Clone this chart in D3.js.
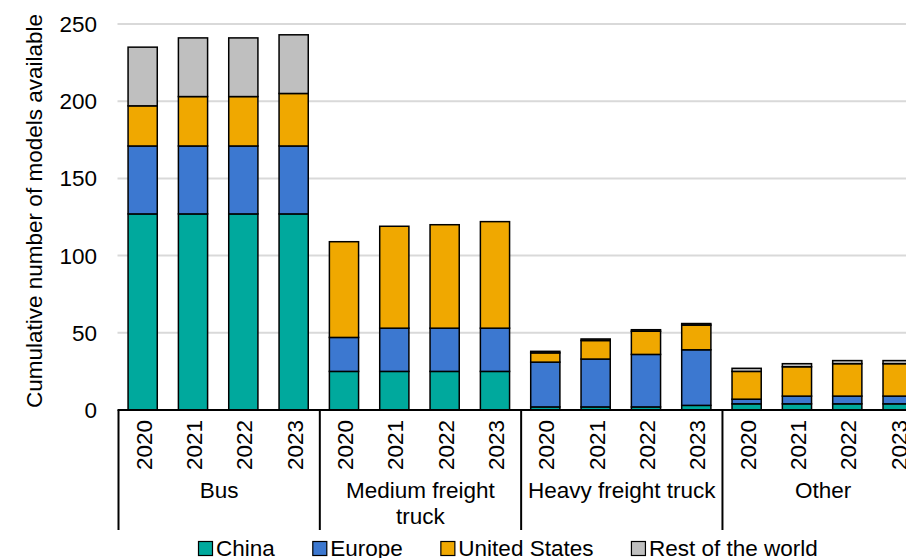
<!DOCTYPE html>
<html>
<head>
<meta charset="utf-8">
<script src="https://cdn.jsdelivr.net/npm/d3@7"></script>
<style>
  html, body { margin: 0; padding: 0; background: #fff; overflow: hidden; }
  svg { display: block; font-family: "Liberation Sans", Arial, sans-serif; }
</style>
</head>
<body>
<svg id="chart" width="906" height="558"></svg>
<script>
// ---- Data ----
const groups = ["Bus", "Medium freight truck", "Heavy freight truck", "Other"];
const groupLabels = [["Bus"], ["Medium freight", "truck"], ["Heavy freight truck"], ["Other"]];
const years = ["2020", "2021", "2022", "2023"];
const seriesNames = ["China", "Europe", "United States", "Rest of the world"];
const seriesColors = ["#00A99D", "#3C78D0", "#F0A800", "#BFBFBF"];

// values per group, ordered by years
const china = {
  "Bus": [127, 127, 127, 127],
  "Medium freight truck": [25, 25, 25, 25],
  "Heavy freight truck": [2, 2, 2, 3],
  "Other": [4, 4, 4, 4]
};
const europe = {
  "Bus": [44, 44, 44, 44],
  "Medium freight truck": [22, 28, 28, 28],
  "Heavy freight truck": [29, 31, 34, 36],
  "Other": [3, 5, 5, 5]
};
const unitedStates = {
  "Bus": [26, 32, 32, 34],
  "Medium freight truck": [62, 66, 67, 69],
  "Heavy freight truck": [6, 12, 15, 16],
  "Other": [18, 19, 21, 21]
};
const restOfWorld = {
  "Bus": [38, 38, 38, 38],
  "Medium freight truck": [0, 0, 0, 0],
  "Heavy freight truck": [1, 1, 1, 1],
  "Other": [2, 2, 2, 2]
};
const yTicks = [0, 50, 100, 150, 200, 250];
const yTitle = "Cumulative number of models available";

// ---- Build table ----
const seriesData = [china, europe, unitedStates, restOfWorld];
const rows = [];
groups.forEach(g => years.forEach((y, i) => {
  const r = { key: g + "|" + y, group: g, year: y };
  seriesNames.forEach((s, k) => { r[s] = seriesData[k][g][i]; });
  rows.push(r);
}));

// ---- Layout ----
const svg = d3.select("#chart");
const W = 906, H = 558;
const FS = 22.5;
const plotLeft = 117.5;
const step = 50.33;
const x = d3.scaleBand()
  .domain(rows.map(d => d.key))
  .range([plotLeft, plotLeft + step * rows.length])
  .paddingInner(0.42)
  .paddingOuter(0.21);
const y = d3.scaleLinear().domain([0, 250]).range([410, 24]);
const color = d3.scaleOrdinal().domain(seriesNames).range(seriesColors);

// gridlines
svg.append("g").selectAll("line")
  .data(yTicks.filter(t => t > 0))
  .join("line")
  .attr("x1", plotLeft).attr("x2", W)
  .attr("y1", d => y(d)).attr("y2", d => y(d))
  .attr("stroke", "#d9d9d9").attr("stroke-width", 2);

// y tick labels
svg.append("g").selectAll("text")
  .data(yTicks)
  .join("text")
  .attr("x", 97).attr("y", d => y(d) + 8)
  .attr("text-anchor", "end")
  .attr("font-size", FS).attr("fill", "#000")
  .text(d => d);

// y title
svg.append("text")
  .attr("transform", `translate(42,211) rotate(-90)`)
  .attr("text-anchor", "middle")
  .attr("font-size", FS).attr("fill", "#000")
  .text(yTitle);

// bars
const stack = d3.stack().keys(seriesNames);
const stacked = stack(rows);
svg.append("g").selectAll("g")
  .data(stacked)
  .join("g")
  .attr("fill", d => color(d.key))
  .selectAll("rect")
  .data(d => d.filter(p => p[1] - p[0] > 0))
  .join("rect")
  .attr("x", d => x(d.data.key))
  .attr("width", x.bandwidth())
  .attr("y", d => y(d[1]))
  .attr("height", d => y(d[0]) - y(d[1]))
  .attr("stroke", "#000").attr("stroke-width", 1.5);

// x axis line
svg.append("line")
  .attr("x1", plotLeft).attr("x2", W)
  .attr("y1", y(0)).attr("y2", y(0))
  .attr("stroke", "#000").attr("stroke-width", 2);

// group separators
const groupWidth = step * years.length;
svg.append("g").selectAll("line")
  .data(d3.range(groups.length + 1))
  .join("line")
  .attr("x1", i => plotLeft + i * groupWidth + 1)
  .attr("x2", i => plotLeft + i * groupWidth + 1)
  .attr("y1", y(0)).attr("y2", 530)
  .attr("stroke", "#000").attr("stroke-width", 2);

// year labels
svg.append("g").selectAll("text")
  .data(rows)
  .join("text")
  .attr("transform", d => `translate(${x(d.key) + x.bandwidth() / 2 + 9},420) rotate(-90)`)
  .attr("text-anchor", "end")
  .attr("font-size", FS).attr("fill", "#000")
  .text(d => d.year);

// group labels
groups.forEach((g, i) => {
  const cx = plotLeft + (i + 0.5) * groupWidth + 1;
  const t = svg.append("text")
    .attr("text-anchor", "middle")
    .attr("font-size", FS).attr("fill", "#000");
  groupLabels[i].forEach((line, j) => {
    t.append("tspan").attr("x", cx).attr("y", 498 + j * 26).text(line);
  });
});

// legend
const legend = svg.append("g");
let lx = 198.5;
seriesNames.forEach((s, i) => {
  legend.append("rect")
    .attr("x", lx).attr("y", 541.5)
    .attr("width", 14).attr("height", 14)
    .attr("fill", color(s)).attr("stroke", "#000").attr("stroke-width", 1.2);
  const t = legend.append("text")
    .attr("x", lx + 17.5).attr("y", 556)
    .attr("font-size", FS).attr("fill", "#000")
    .text(s);
  lx += 17.5 + t.node().getComputedTextLength() + 38;
});
</script>
</body>
</html>
